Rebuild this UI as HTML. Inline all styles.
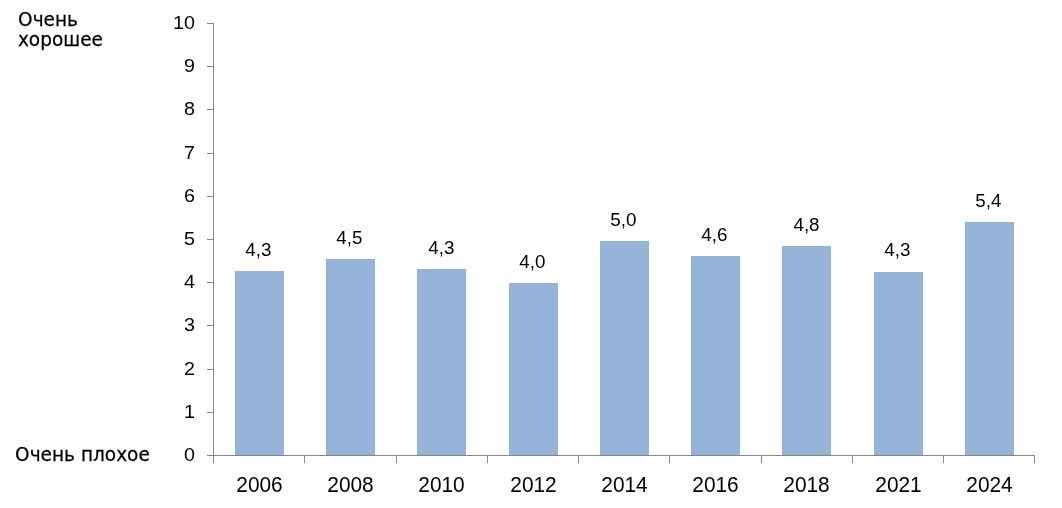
<!DOCTYPE html>
<html lang="ru"><head><meta charset="utf-8"><title>Chart</title>
<style>
html,body{margin:0;padding:0;background:#fff;}
body{width:1062px;height:508px;overflow:hidden;}
svg{display:block;}
text{font-family:"Liberation Sans",sans-serif;fill:#000;}
.ax{fill:#868686;}
.bar{fill:#95b3d7;}
.yl{font-size:18.8px;text-anchor:end;}
.vl{font-size:18.8px;text-anchor:middle;}
.xl{font-size:21.3px;text-anchor:middle;}
.t{font-family:"DejaVu Sans","Liberation Sans",sans-serif;font-size:19.0px;stroke:#000;stroke-width:0.25px;}
</style></head><body>
<svg width="1062" height="508" viewBox="0 0 1062 508">
<rect x="0" y="0" width="1062" height="508" fill="#ffffff"/>
<g shape-rendering="crispEdges">
<rect class="bar" x="235" y="271" width="49" height="184"/>
<rect class="bar" x="326" y="259" width="49" height="196"/>
<rect class="bar" x="417" y="269" width="49" height="186"/>
<rect class="bar" x="509" y="283" width="49" height="172"/>
<rect class="bar" x="600" y="241" width="49" height="214"/>
<rect class="bar" x="691" y="256" width="49" height="199"/>
<rect class="bar" x="782" y="246" width="49" height="209"/>
<rect class="bar" x="874" y="272" width="49" height="183"/>
<rect class="bar" x="965" y="222" width="49" height="233"/>
<rect class="ax" x="213" y="23" width="1" height="440"/>
<rect class="ax" x="207" y="455" width="828" height="1"/>
<rect class="ax" x="207" y="23" width="6" height="1"/>
<rect class="ax" x="207" y="66" width="6" height="1"/>
<rect class="ax" x="207" y="109" width="6" height="1"/>
<rect class="ax" x="207" y="153" width="6" height="1"/>
<rect class="ax" x="207" y="196" width="6" height="1"/>
<rect class="ax" x="207" y="239" width="6" height="1"/>
<rect class="ax" x="207" y="282" width="6" height="1"/>
<rect class="ax" x="207" y="325" width="6" height="1"/>
<rect class="ax" x="207" y="369" width="6" height="1"/>
<rect class="ax" x="207" y="412" width="6" height="1"/>
<rect class="ax" x="304" y="456" width="1" height="7"/>
<rect class="ax" x="396" y="456" width="1" height="7"/>
<rect class="ax" x="487" y="456" width="1" height="7"/>
<rect class="ax" x="578" y="456" width="1" height="7"/>
<rect class="ax" x="669" y="456" width="1" height="7"/>
<rect class="ax" x="761" y="456" width="1" height="7"/>
<rect class="ax" x="852" y="456" width="1" height="7"/>
<rect class="ax" x="943" y="456" width="1" height="7"/>
<rect class="ax" x="1034" y="456" width="1" height="7"/>
</g>
<text class="yl" transform="translate(195.0 460.9) scale(1.05 1)">0</text>
<text class="yl" transform="translate(195.0 417.7) scale(1.05 1)">1</text>
<text class="yl" transform="translate(195.0 374.5) scale(1.05 1)">2</text>
<text class="yl" transform="translate(195.0 331.3) scale(1.05 1)">3</text>
<text class="yl" transform="translate(195.0 288.1) scale(1.05 1)">4</text>
<text class="yl" transform="translate(195.0 244.9) scale(1.05 1)">5</text>
<text class="yl" transform="translate(195.0 201.7) scale(1.05 1)">6</text>
<text class="yl" transform="translate(195.0 158.5) scale(1.05 1)">7</text>
<text class="yl" transform="translate(195.0 115.3) scale(1.05 1)">8</text>
<text class="yl" transform="translate(195.0 72.1) scale(1.05 1)">9</text>
<text class="yl" transform="translate(195.0 28.9) scale(1.05 1)">10</text>
<text class="vl" transform="translate(258.4 255.5)">4,3</text>
<text class="xl" transform="translate(259.5 491.8) scale(0.98 1)">2006</text>
<text class="vl" transform="translate(349.4 243.5)">4,5</text>
<text class="xl" transform="translate(350.5 491.8) scale(0.98 1)">2008</text>
<text class="vl" transform="translate(441.4 253.5)">4,3</text>
<text class="xl" transform="translate(441.5 491.8) scale(0.98 1)">2010</text>
<text class="vl" transform="translate(532.4 267.5)">4,0</text>
<text class="xl" transform="translate(533.5 491.8) scale(0.98 1)">2012</text>
<text class="vl" transform="translate(623.4 225.5)">5,0</text>
<text class="xl" transform="translate(624.5 491.8) scale(0.98 1)">2014</text>
<text class="vl" transform="translate(714.4 240.5)">4,6</text>
<text class="xl" transform="translate(715.5 491.8) scale(0.98 1)">2016</text>
<text class="vl" transform="translate(806.5 230.9)">4,8</text>
<text class="xl" transform="translate(806.5 491.8) scale(0.98 1)">2018</text>
<text class="vl" transform="translate(897.4 256.0)">4,3</text>
<text class="xl" transform="translate(898.5 491.8) scale(0.98 1)">2021</text>
<text class="vl" transform="translate(988.4 206.5)">5,4</text>
<text class="xl" transform="translate(989.5 491.8) scale(0.98 1)">2024</text>
<text class="t" transform="translate(18.1 25.8) scale(0.975 1)">Очень</text>
<text class="t" transform="translate(17.9 45.8) scale(0.975 1)">хорошее</text>
<text class="t" transform="translate(15.1 460.8) scale(0.975 1)">Очень плохое</text>
</svg></body></html>
